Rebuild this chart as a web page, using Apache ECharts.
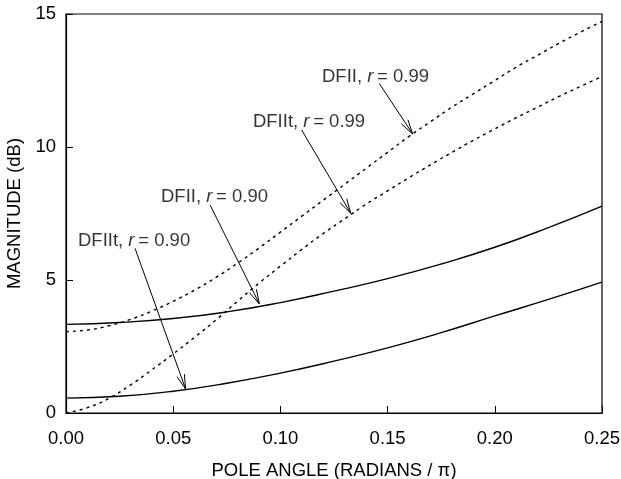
<!DOCTYPE html>
<html><head><meta charset="utf-8">
<script src="https://cdn.jsdelivr.net/npm/echarts@6/dist/echarts.min.js"></script>
<style>html,body{margin:0;padding:0;background:#fff}#c{width:621px;height:479px}</style>
</head><body><div id="c"></div>
<script>
// x positions (pole angle, radians/pi)
const xDashed = [0,0.01,0.02,0.03,0.04,0.05,0.06,0.07,0.08,0.09,0.10,0.11,0.12,0.13,0.14,0.15,0.16,0.17,0.18,0.19,0.20,0.21,0.22,0.23,0.24,0.25];
const dfii099  = [3.06,3.12,3.28,3.52,3.83,4.2,4.62,5.1,5.63,6.2,6.8,7.4,8.0,8.6,9.2,9.8,10.4,10.95,11.5,12.0,12.5,13.0,13.45,13.9,14.32,14.72];
const dfiit099 = [0.0,0.2,0.55,1.05,1.62,2.22,2.85,3.5,4.2,4.88,5.52,6.15,6.75,7.3,7.85,8.35,8.85,9.33,9.8,10.25,10.68,11.1,11.5,11.9,12.28,12.65];
const xSolid = [0,0.025,0.05,0.075,0.10,0.125,0.15,0.175,0.20,0.225,0.25];
const dfii090  = [3.33,3.4,3.55,3.8,4.15,4.58,5.05,5.6,6.23,6.97,7.78];
const dfiit090 = [0.56,0.63,0.82,1.12,1.5,1.95,2.45,3.02,3.65,4.27,4.92];

// annotations
const labelName = ['DFII','DFIIt','DFII','DFIIt'];
const labelR    = ['0.99','0.99','0.90','0.90'];
const labelX    = [0.1194,0.0872,0.0443,0.0056];
const labelY    = [12.63,10.94,8.12,6.47];
const arrowFromX = [0.1461,0.1099,0.0672,0.0322];
const arrowFromY = [12.39,10.64,7.82,6.19];
const arrowToX   = [0.1617,0.1328,0.0902,0.0558];
const arrowToY   = [10.49,7.51,4.10,0.90];

const pair = (xs, ys) => xs.map((x,i)=>[x, ys[i]]);
const FONT = 'Liberation Sans, Arial, Helvetica, sans-serif';
const FS = 18.5;

const chart = echarts.init(document.getElementById('c'), null, {renderer:'canvas'});
chart.setOption({
  animation:false,
  backgroundColor:'#fff',
  grid:{left:66,right:19,top:14,bottom:66,containLabel:false,outerBoundsMode:'none',show:true,borderColor:'#000',borderWidth:1.2,backgroundColor:'transparent'},
  xAxis:{type:'value',min:0,max:0.25,interval:0.05,
    name:'POLE ANGLE (RADIANS / \u03c0)',nameLocation:'middle',nameGap:48,
    nameTextStyle:{fontFamily:FONT,fontSize:FS,color:'#000'},
    axisLine:{show:true,lineStyle:{color:'#000',width:1.2}},
    axisTick:{show:true,inside:true,length:7,lineStyle:{color:'#000'}},
    axisLabel:{fontFamily:FONT,fontSize:FS,color:'#000',margin:16,formatter:v=>v.toFixed(2)},
    splitLine:{show:false}},
  yAxis:{type:'value',min:0,max:15,interval:5,
    name:'MAGNITUDE (dB)',nameLocation:'middle',nameGap:41,nameRotate:90,
    nameTextStyle:{fontFamily:FONT,fontSize:FS,color:'#000'},
    axisLine:{show:true,lineStyle:{color:'#000',width:1.2}},
    axisTick:{show:true,inside:true,length:7,lineStyle:{color:'#000'}},
    axisLabel:{fontFamily:FONT,fontSize:FS,color:'#000',margin:10},
    splitLine:{show:false}},
  series:[
    {type:'line',data:pair(xDashed,dfii099),smooth:true,symbol:'none',lineStyle:{color:'#000',width:1.4,type:[3,4]}},
    {type:'line',data:pair(xDashed,dfiit099),smooth:true,symbol:'none',lineStyle:{color:'#000',width:1.4,type:[3,4]}},
    {type:'line',data:pair(xSolid,dfii090),smooth:true,symbol:'none',lineStyle:{color:'#000',width:1.4}},
    {type:'line',data:pair(xSolid,dfiit090),smooth:true,symbol:'none',lineStyle:{color:'#000',width:1.4}},
    {type:'custom',
     data:arrowFromX.map((x,i)=>[x,arrowFromY[i],arrowToX[i],arrowToY[i]]),
     encode:{x:[0,2],y:[1,3]},
     renderItem:function(params,api){
       const p0=api.coord([api.value(0),api.value(1)]);
       const p1=api.coord([api.value(2),api.value(3)]);
       const ang=Math.atan2(p1[1]-p0[1],p1[0]-p0[0]);
       const L=15,a=0.26;
       const h1=[p1[0]-L*Math.cos(ang-a),p1[1]-L*Math.sin(ang-a)];
       const h2=[p1[0]-L*Math.cos(ang+a),p1[1]-L*Math.sin(ang+a)];
       return {type:'group',children:[
         {type:'line',shape:{x1:p0[0],y1:p0[1],x2:p1[0],y2:p1[1]},style:{stroke:'#000',lineWidth:1}},
         {type:'polyline',shape:{points:[h1,p1,h2]},style:{stroke:'#000',fill:null,lineWidth:1}}
       ]};
     }},
    {type:'scatter',symbolSize:0,
     data:labelX.map((x,i)=>({value:[x,labelY[i]],name:labelName[i],r:labelR[i]})),
     label:{show:true,position:'right',distance:0,color:'#000',fontFamily:FONT,fontSize:FS,
       formatter:p=>'{n|'+p.data.name+', }{i|r}{n|\u2009= '+p.data.r+'}',
       rich:{n:{fontFamily:FONT,fontSize:FS,color:'#000'},i:{fontFamily:FONT,fontSize:FS,fontStyle:'italic',color:'#000'}}}}
  ]
});
</script></body></html>
